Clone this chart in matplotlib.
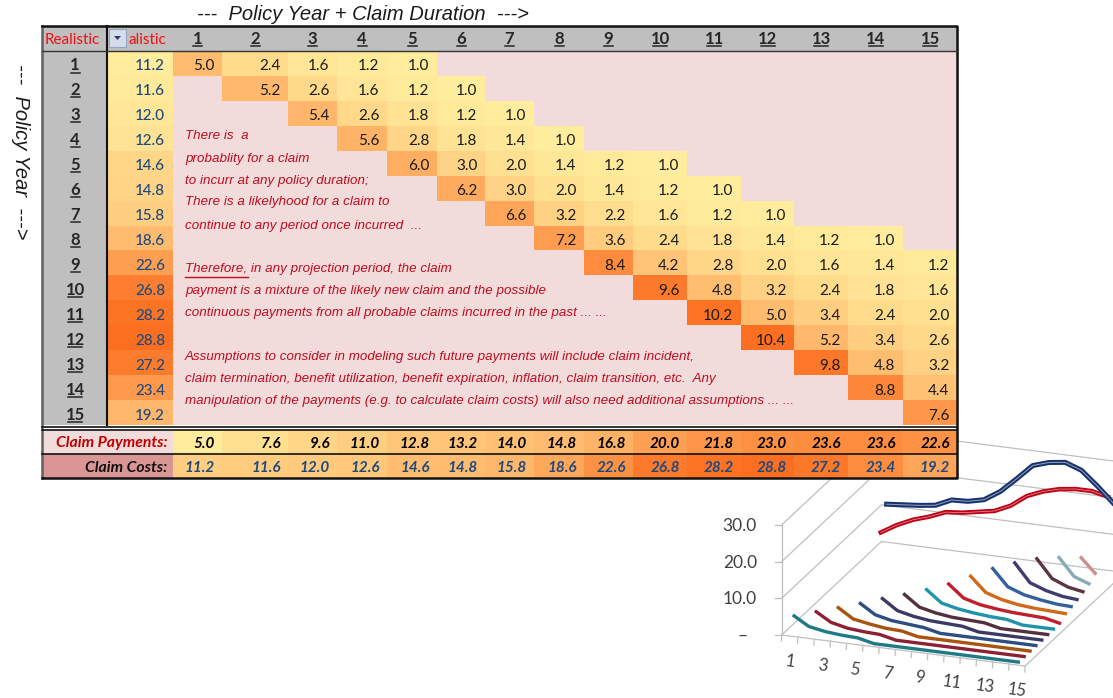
import numpy as np
import matplotlib
matplotlib.use("Agg")
import matplotlib.pyplot as plt
from matplotlib.colors import LinearSegmentedColormap, Normalize
from matplotlib.patches import Rectangle, Polygon

years = list(range(1, 16))

# realistic column / totals
claim_costs = [11.2, 11.6, 12.0, 12.6, 14.6, 14.8, 15.8, 18.6, 22.6, 26.8, 28.2, 28.8, 27.2, 23.4, 19.2]
claim_payments = [5.0, 7.6, 9.6, 11.0, 12.8, 13.2, 14.0, 14.8, 16.8, 20.0, 21.8, 23.0, 23.6, 23.6, 22.6]

# triangle values, each row starts on its own diagonal column
row_1 = [5.0, 2.4, 1.6, 1.2, 1.0]
row_2 = [5.2, 2.6, 1.6, 1.2, 1.0]
row_3 = [5.4, 2.6, 1.8, 1.2, 1.0]
row_4 = [5.6, 2.8, 1.8, 1.4, 1.0]
row_5 = [6.0, 3.0, 2.0, 1.4, 1.2, 1.0]
row_6 = [6.2, 3.0, 2.0, 1.4, 1.2, 1.0]
row_7 = [6.6, 3.2, 2.2, 1.6, 1.2, 1.0]
row_8 = [7.2, 3.6, 2.4, 1.8, 1.4, 1.2, 1.0]
row_9 = [8.4, 4.2, 2.8, 2.0, 1.6, 1.4, 1.2]
row_10 = [9.6, 4.8, 3.2, 2.4, 1.8, 1.6]
row_11 = [10.2, 5.0, 3.4, 2.4, 2.0]
row_12 = [10.4, 5.2, 3.4, 2.6]
row_13 = [9.8, 4.8, 3.2]
row_14 = [8.8, 4.4]
row_15 = [7.6]
rows = [row_1, row_2, row_3, row_4, row_5, row_6, row_7, row_8, row_9, row_10,
        row_11, row_12, row_13, row_14, row_15]

note_lines = [
    "There is  a",
    "probablity for a claim",
    "to incurr at any policy duration;",
    "There is a likelyhood for a claim to",
    "continue to any period once incurred  ...",
    "Therefore, in any projection period, the claim",
    "payment is a mixture of the likely new claim and the possible",
    "continuous payments from all probable claims incurred in the past ... ...",
    "Assumptions to consider in modeling such future payments will include claim incident,",
    "claim termination, benefit utilization, benefit expiration, inflation, claim transition, etc.  Any",
    "manipulation of the payments (e.g. to calculate claim costs) will also need additional assumptions ... ...",
]

series_colors = ["#1F7A85", "#8E2034", "#A8530F", "#2C4E80", "#3B3A66", "#54303F", "#1F93A8",
                 "#C0202A", "#D0691A", "#34609C", "#3F3D70", "#5E3444", "#86ACB8", "#CB8F8F", "#B9CDE5"]

# layout, in pixels of the picture
col_edges = [173, 222, 288, 337, 387, 437, 485, 534, 584, 633, 687, 741, 794, 848, 903, 957]
row_edges = np.linspace(51, 425, 16)
note_y = [136, 159, 181, 202, 226, 269, 291, 313, 357, 379, 401]

NUM = ["Lato", "DejaVu Sans"]

fig = plt.figure(figsize=(11.13, 6.98), dpi=100)
ax = fig.add_axes([0, 0, 1, 1])
ax.set_xlim(0, 1113)
ax.set_ylim(698, 0)
ax.axis("off")

cmap = LinearSegmentedColormap.from_list("heat", ["#FFEC9C", "#FFB266", "#FD6F20"])
matrix_norm = Normalize(1.0, 10.4)
cost_norm = Normalize(min(claim_costs), max(claim_costs))
total_norm = Normalize(min(claim_payments), max(claim_costs))


# 3D chart on the lower right
def project(cat, depth, value):
    x = 781.7 + 16.23 * cat + 5.87 * depth
    y = 635.0 + 2.07 * cat - 5.5 * depth - 3.67 * value
    return x, y


grid_col = "#BFBFBF"
for v in [0, 10, 20, 30]:
    p0 = project(0, 0, v)
    p1 = project(0, 17, v)
    p2 = project(15, 17, v)
    ax.plot([p0[0], p1[0], p2[0]], [p0[1], p1[1], p2[1]], color=grid_col, lw=0.9, zorder=1)
    tick = project(-0.4, 0, v)
    ax.plot([tick[0], p0[0]], [p0[1], p0[1]], color=grid_col, lw=0.9, zorder=1)
    label = "\u2013" if v == 0 else "%.1f" % v
    ax.text(748 if v == 0 else 757, p0[1] + 1, label, ha="right", va="center",
            family=NUM, fontsize=12.5, color="#404040")
p0 = project(0, 0, 0)
p1 = project(0, 0, 30)
ax.plot([p0[0], p1[0]], [p0[1], p1[1]], color=grid_col, lw=0.9, zorder=1)
p1 = project(15, 0, 0)
p2 = project(15, 17, 0)
ax.plot([p0[0], p1[0], p2[0]], [p0[1], p1[1], p2[1]], color=grid_col, lw=0.9, zorder=1)
for c in range(16):
    a = project(c, 0, 0)
    ax.plot([a[0], a[0] - 0.3], [a[1], a[1] + 6], color=grid_col, lw=0.9, zorder=1)
for c in years[::2]:
    a = project(c - 0.5, 0, 0)
    ax.text(a[0], a[1] + 25.5, str(c), ha="center", va="center", rotation=-8,
            family=NUM, fontsize=12, color="#404040")

for i, vals in enumerate(rows):
    full = list(vals) + [0.0] * (15 - i - len(vals))
    cats = np.arange(i, 15) + 0.5
    xs, ys = project(cats, np.full(len(cats), i + 0.5), np.array(full))
    if len(cats) > 1:
        ax.plot(xs, ys, color=series_colors[i], lw=2.4, solid_capstyle="butt",
                solid_joinstyle="round", zorder=2)

cats = np.arange(15) + 0.5
xs, ys = project(cats, np.full(15, 15.5), np.array(claim_payments))
ax.plot(xs, ys, color="#C00014", lw=3.2, zorder=3)
ax.plot(xs, ys, color="#D9A0A0", lw=0.5, zorder=3)
xs, ys = project(cats, np.full(15, 16.5), np.array(claim_costs))
ax.plot(xs, ys, color="#14306E", lw=3.6, zorder=3)
ax.plot(xs, ys, color="#8C97AE", lw=0.8, zorder=3)

# table backgrounds
TZ = 5
ax.add_patch(Rectangle((42, 26), 915, 452, fc="white", ec="none", zorder=TZ))
ax.add_patch(Rectangle((42, 26), 915, 25, fc="#BFBFBF", ec="none", zorder=TZ))
ax.add_patch(Rectangle((42, 51), 65, 374, fc="#BFBFBF", ec="none", zorder=TZ))
ax.add_patch(Rectangle((173, 51), 784, 374, fc="#F2DCDB", ec="none", zorder=TZ))
ax.add_patch(Rectangle((42, 430), 131, 24, fc="#F2DCDB", ec="none", zorder=TZ))
ax.add_patch(Rectangle((42, 454), 131, 24, fc="#D99694", ec="none", zorder=TZ))

TXT = TZ + 2
for i, y in enumerate(years):
    top, bot = row_edges[i], row_edges[i + 1]
    ax.add_patch(Rectangle((107, top), 66, bot - top, fc=cmap(cost_norm(claim_costs[i])),
                           ec="none", zorder=TZ + 1))
    ax.text(165, top + 19.5, "%.1f" % claim_costs[i], ha="right", va="baseline", family=NUM,
            fontsize=11, color="#1F497D", fontweight="medium", zorder=TXT)
    # row label and underline
    w = 6 if y > 9 else 3.5
    ax.text(75, top + 19.5, str(y), ha="center", va="baseline", family=NUM, fontsize=12,
            fontweight="bold", color="#262626", zorder=TXT)
    ax.plot([75 - w - 1, 75 + w + 1], [top + 21.5, top + 21.5], color="#262626", lw=1.1, zorder=TXT)
    # column header and underline
    cx = (col_edges[i] + col_edges[i + 1]) / 2
    ax.text(cx, 44, str(y), ha="center", va="baseline", family=NUM, fontsize=12,
            fontweight="bold", color="#262626", zorder=TXT)
    ax.plot([cx - w - 1, cx + w + 1], [46, 46], color="#262626", lw=1.1, zorder=TXT)
    # triangle cells
    for j, v in enumerate(rows[i]):
        left, right = col_edges[i + j], col_edges[i + j + 1]
        ax.add_patch(Rectangle((left, top), right - left, bot - top, fc=cmap(matrix_norm(v)),
                               ec="none", zorder=TZ + 1))
        ax.text(right - 7.5, top + 19.5, "%.1f" % v, ha="right", va="baseline", family=NUM,
                fontsize=11, color="#1A1A1A", zorder=TXT)
    # totals
    left, right = col_edges[i], col_edges[i + 1]
    ax.add_patch(Rectangle((left, 430), right - left, 24, fc=cmap(total_norm(claim_payments[i])),
                           ec="none", zorder=TZ + 1))
    ax.add_patch(Rectangle((left, 454), right - left, 24, fc=cmap(total_norm(claim_costs[i])),
                           ec="none", zorder=TZ + 1))
    ax.text(right - 7, 447.5, "%.1f" % claim_payments[i], ha="right", va="baseline", family=NUM,
            fontsize=11, style="italic", fontweight="bold", color="black", zorder=TXT)
    ax.text(right - 7, 472, "%.1f" % claim_costs[i], ha="right", va="baseline", family=NUM,
            fontsize=11, style="italic", fontweight="bold", color="#1F497D", zorder=TXT)

# header cells
ax.text(72.5, 44, "Realistic", ha="center", va="baseline", family=NUM, fontsize=11,
        color="#F01010", zorder=TXT)
ax.text(147, 44, "alistic", ha="center", va="baseline", family=NUM, fontsize=11,
        color="#F01010", zorder=TXT)
ax.add_patch(Rectangle((109, 29), 17, 18, fc="#D5DCEA", ec="#93A6C8", lw=0.8, zorder=TXT))
ax.add_patch(Polygon([(114, 36), (121, 36), (117.5, 40)], fc="#2A3F6A", ec="none", zorder=TXT + 1))

ax.text(167.5, 447.5, "Claim Payments:", ha="right", va="baseline", family=NUM, fontsize=11.3,
        style="italic", fontweight="bold", color="#C00000", zorder=TXT)
ax.text(167.5, 472, "Claim Costs:", ha="right", va="baseline", family=NUM, fontsize=11.3,
        style="italic", fontweight="bold", color="#111111", zorder=TXT)

# red notes
for line, y in zip(note_lines, note_y):
    ax.text(185, y, line, ha="left", va="center", family="Liberation Sans", fontsize=9.66,
            style="italic", color="#C00A1E", zorder=TXT)
ax.plot([185, 248], [276.5, 276.5], color="#C00A1E", lw=1.0, zorder=TXT)

# table borders
k = "#111111"
ax.plot([42, 42], [26, 478], color="#606060", lw=1.8, zorder=TXT + 2)
ax.plot([42, 957, 957, 42], [26, 26, 478, 478], color=k, lw=1.8, zorder=TXT + 2)
ax.plot([107, 107], [26, 425], color=k, lw=1.5, zorder=TXT + 2)
ax.plot([42, 957], [51, 51], color="#333333", lw=1.0, zorder=TXT + 2)
ax.plot([42, 957], [426.5, 426.5], color=k, lw=1.2, zorder=TXT + 2)
ax.plot([42, 957], [429.5, 429.5], color=k, lw=1.2, zorder=TXT + 2)
ax.plot([42, 957], [454, 454], color=k, lw=1.2, zorder=TXT + 2)

# outer titles
ax.text(197, 14, "---  Policy Year + Claim Duration  --->", ha="left", va="center",
        family="Liberation Sans", style="italic", fontsize=14.5, color="#1A1A1A")
ax.text(20, 152, "---  Policy Year  --->", ha="center", va="center", rotation=-90,
        family="Liberation Sans", style="italic", fontsize=14.5, color="#1A1A1A")

fig.savefig("out.png", dpi=100)
